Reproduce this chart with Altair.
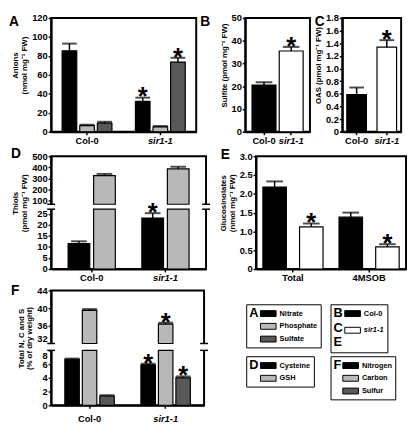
import altair as alt
import pandas as pd

FONT = "Liberation Sans"
BLACK, LIGHT, DARK, WHITE = "#000000", "#b8b8b8", "#585858", "#ffffff"

genotypes = ["Col-0", "sir1-1"]

# A: anions (nmol mg-1 FW)
anions = ["Nitrate", "Phosphate", "Sulfate"]
anions_col0 = [85.5, 6.5, 9.0]
anions_col0_err = [7.5, 0.9, 1.5]
anions_sir = [32.0, 5.2, 73.5]
anions_sir_err = [4.0, 0.8, 4.5]
anions_sig = [True, False, True]

# B: sulfite (pmol mg-1 FW)
sulfite = [20.5, 35.5]
sulfite_err = [1.3, 1.8]
sulfite_sig = [False, True]

# C: OAS (pmol mg-1 FW)
oas = [0.59, 1.34]
oas_err = [0.11, 0.11]
oas_sig = [False, True]

# D: thiols (pmol mg-1 FW)
thiols = ["Cysteine", "GSH"]
thiols_col0 = [11.5, 325.0]
thiols_col0_err = [1.0, 15.0]
thiols_sir = [23.0, 385.0]
thiols_sir_err = [2.2, 20.0]
thiols_sig = [True, False]

# E: glucosinolates (nmol mg-1 FW)
glucos = ["Total", "4MSOB"]
gluc_col0 = [2.18, 1.38]
gluc_col0_err = [0.15, 0.12]
gluc_sir = [1.12, 0.59]
gluc_sir_err = [0.09, 0.07]
gluc_sig = [True, True]

# F: total N, C and S (% of dry weight)
elements = ["Nitrogen", "Carbon", "Sulfur"]
elem_col0 = [6.7, 39.5, 1.35]
elem_col0_err = [0.1, 0.3, 0.1]
elem_sir = [5.9, 36.4, 4.0]
elem_sir_err = [0.15, 0.3, 0.2]
elem_sig = [True, True, True]


def long_table(cats, catname, col0, col0_err, sir, sir_err, sig):
    rows = []
    for g, vals, errs in (("Col-0", col0, col0_err), ("sir1-1", sir, sir_err)):
        for c, v, e, s in zip(cats, vals, errs, sig):
            rows.append({"geno": g, catname: c, "v": v, "top": v + e,
                         "star": "*" if (g == "sir1-1" and s) else ""})
    return pd.DataFrame(rows)


def split_segments(df, low_top, up_bot):
    rows = []
    for r in df.to_dict("records"):
        rows.append({**r, "y0": 0.0, "y1": min(r["v"], low_top)})
        if r["v"] > up_bot:
            rows.append({**r, "y0": up_bot, "y1": r["v"]})
    return pd.DataFrame(rows)


XSTYLE = {"expr": "datum.value == 'sir1-1' ? 'italic' : 'normal'"}
DEC1 = "datum.value == 0 ? '0' : format(datum.value, '.1f')"


def letter_layer(t, dx, by):
    return alt.Chart(pd.DataFrame({"t": [t]})).mark_text(
        align="left", baseline="alphabetic", font=FONT, fontSize=14,
        fontWeight="bold", color=BLACK).encode(
        x=alt.value(dx), y=alt.value(by), text="t:N")


def y_axis(title, values, h, label_expr=None, baseline=None):
    kw = dict(title=title, values=values, labelOverlap=False, titleY=h / 2 - 10)
    if label_expr:
        kw["labelExpr"] = label_expr
    if baseline:
        kw["labelBaseline"] = baseline
    return alt.Axis(**kw)


def build_panel(df, xfield, xsort, xpad, offfield, offsort, offpad, fillfield,
                filldom, fillrng, yscale, yaxis, cap, w, h, letter,
                segments=None, breaks=None, xlabpad=1, extra=None, legend=None):
    xaxis = alt.Axis(title=None, labelAngle=0, labelFontSize=9.5,
                     labelPadding=xlabpad, labelFontStyle=XSTYLE)

    def enc():
        e = {"x": alt.X(f"{xfield}:N", sort=xsort,
                        scale=alt.Scale(paddingInner=xpad[0], paddingOuter=xpad[1]),
                        axis=xaxis)}
        if offfield:
            e["xOffset"] = alt.XOffset(f"{offfield}:N", sort=offsort,
                                       scale=alt.Scale(paddingInner=offpad, paddingOuter=0))
        return e

    def yenc(field):
        return alt.Y(f"{field}:Q", scale=yscale, axis=yaxis)

    fill = alt.Fill(f"{fillfield}:N", sort=filldom,
                    scale=alt.Scale(domain=filldom, range=fillrng), legend=legend)
    if segments is not None:
        bars = alt.Chart(segments).mark_bar(stroke=BLACK, strokeWidth=1.2).encode(
            y=yenc("y0"), y2="y1:Q", fill=fill, **enc())
    else:
        bars = alt.Chart(df).mark_bar(stroke=BLACK, strokeWidth=1.2).encode(
            y=yenc("v"), fill=fill, **enc())
    err = alt.Chart(df).mark_rule(color=BLACK, strokeWidth=1.5).encode(
        y=yenc("v"), y2="top:Q", **enc())
    caps = alt.Chart(df).mark_tick(color=BLACK, thickness=2, size=cap,
                                   orient="horizontal").encode(y=yenc("top"), **enc())
    stars = alt.Chart(df[df["star"] != ""]).mark_text(
        font=FONT, fontSize=26, fontWeight="bold", baseline="alphabetic", dy=8,
        color=BLACK).encode(y=yenc("top"), text="star:N", **enc())
    layers = [bars, err, caps, stars]
    if breaks is not None:
        lo, hi = breaks
        bd = pd.DataFrame({"yb": [lo, hi]})
        mk = pd.DataFrame({"lo": [lo], "hi": [hi]})
        for xv in (0, w):
            layers.append(alt.Chart(mk).mark_rule(color=WHITE, strokeWidth=6).encode(
                x=alt.value(xv), y=yenc("lo"), y2="hi:Q"))
            layers.append(alt.Chart(bd).mark_rule(color=BLACK, strokeWidth=1.5).encode(
                x=alt.value(xv - 4), x2=alt.value(xv + 4), y=yenc("yb")))
    layers.append(letter_layer(*letter))
    if extra:
        layers += extra
    ch = alt.layer(*layers)
    if extra:
        ch = ch.resolve_scale(fill="independent")
    return ch.properties(width=w, height=h)


RECT = "M-1.33,-0.5H1.33V0.5H-1.33Z"


def box_legend(title, x, y, pad_spaces, rowpad=1, lh=13):
    return alt.Legend(title=title, orient="none", legendX=x, legendY=y, direction="vertical",
                      titleOrient="left", titleAnchor="start", titleBaseline="top",
                      titleAlign="left", titleFont=FONT, titleFontSize=13,
                      titleFontWeight="bold", titleColor=BLACK, titlePadding=3,
                      titleLineHeight=lh, labelFont=FONT, labelFontSize=7.5,
                      labelFontWeight="bold", labelColor=BLACK, labelOffset=5,
                      labelFontStyle=XSTYLE,
                      labelExpr="datum.label + '" + " " * pad_spaces + "'",
                      symbolType=RECT, symbolSize=144, symbolStrokeColor=BLACK,
                      symbolStrokeWidth=1, rowPadding=rowpad, padding=3,
                      strokeColor=BLACK)


def legend_layer(field, cats, colors, lg):
    return alt.Chart(pd.DataFrame({field: cats})).mark_text(
        text="", stroke=BLACK, strokeWidth=1).encode(
        fill=alt.Fill(f"{field}:N", sort=cats,
                      scale=alt.Scale(domain=cats, range=colors), legend=lg))


H1, H2, H3 = 116, 115, 117
WA, WB, WC, WD, WE, WF = 148, 66, 60, 158, 153, 156

dfA = long_table(anions, "anion", anions_col0, anions_col0_err, anions_sir, anions_sir_err, anions_sig)
A = build_panel(dfA, "geno", genotypes, (0.32, 0.15), "anion", anions, 0.17, "anion",
                anions, [BLACK, LIGHT, DARK],
                alt.Scale(domain=[0, 120], nice=False),
                y_axis(["Anions", "(nmol mg⁻¹ FW)"], [0, 20, 40, 60, 80, 100, 120], H1),
                15, WA, H1, ("A", -43, 8))

dfB = pd.DataFrame({"geno": genotypes, "v": sulfite,
                    "top": [v + e for v, e in zip(sulfite, sulfite_err)],
                    "star": ["*" if s else "" for s in sulfite_sig]})
B = build_panel(dfB, "geno", genotypes, (0.12, 0.25), None, None, 0, "geno",
                genotypes, [BLACK, WHITE],
                alt.Scale(domain=[0, 50], nice=False),
                y_axis("Sulfite (pmol mg⁻¹ FW)", [0, 10, 20, 30, 40, 50], H1),
                17, WB, H1, ("B", -46, 8))

dfC = pd.DataFrame({"geno": genotypes, "v": oas,
                    "top": [v + e for v, e in zip(oas, oas_err)],
                    "star": ["*" if s else "" for s in oas_sig]})
C = build_panel(dfC, "geno", genotypes, (0.35, 0.15), None, None, 0, "geno",
                genotypes, [BLACK, WHITE],
                alt.Scale(domain=[0, 1.8], nice=False),
                y_axis("OAS (pmol mg⁻¹ FW)", [0, 0.2, 0.4, 0.6, 0.8, 1.0, 1.2, 1.4, 1.6, 1.8], H1, DEC1),
                15, WC, H1, ("C", -28, 8))

D_LO, D_HI = 27.0, 65.0
dfD = long_table(thiols, "thiol", thiols_col0, thiols_col0_err, thiols_sir, thiols_sir_err, thiols_sig)
D = build_panel(dfD, "geno", genotypes, (0.36, 0.23), "thiol", thiols, 0.15, "thiol",
                thiols, [BLACK, LIGHT],
                alt.Scale(domain=[0, D_LO, D_HI, 500], range=[H2, 54, 49, 0], nice=False, zero=False),
                y_axis(["Thiols", "(pmol mg⁻¹ FW)"], [0, 5, 10, 15, 20, 25, 100, 200, 300, 400, 500], H2),
                16, WD, H2, ("D", -41, 2),
                segments=split_segments(dfD, D_LO, D_HI), breaks=(D_LO, D_HI))

dfE = long_table(glucos, "gluc", gluc_col0, gluc_col0_err, gluc_sir, gluc_sir_err, gluc_sig)
E = build_panel(dfE, "gluc", glucos, (0.21, 0.09), "geno", genotypes, 0.36, "geno",
                genotypes, [BLACK, WHITE],
                alt.Scale(domain=[0, 3], nice=False),
                y_axis(["Glucosinolates", "(nmol mg⁻¹ FW)"], [0, 0.5, 1.0, 1.5, 2.0, 2.5, 3.0], H2, DEC1),
                17, WE, H2, ("E", -36, 3))

F_LO, F_HI = 8.0, 32.0
dfF = long_table(elements, "element", elem_col0, elem_col0_err, elem_sir, elem_sir_err, elem_sig)
legend_layers = [
    legend_layer("anion", anions, [BLACK, LIGHT, DARK], box_legend("A", 199, 14, 0)),
    legend_layer("genotype", genotypes, [BLACK, WHITE],
                 box_legend(["B", "C", "E"], 285, 14, 6, rowpad=5, lh=15)),
    legend_layer("thiol", thiols, [BLACK, LIGHT], box_legend("D", 199, 67, 1)),
]
F = build_panel(dfF, "geno", genotypes, (0.35, 0.18), "element", elements, 0.17, "element",
                elements, [BLACK, LIGHT, DARK],
                alt.Scale(domain=[0, F_LO, F_HI, 44], range=[H3, 61, 54, 0], nice=False, zero=False),
                y_axis(["Total N, C and S", "(% of dry weight)"], [0, 2, 4, 6, 8, 32, 36, 40, 44], H3,
                       baseline={"expr": "datum.value == 32 ? 'bottom' : datum.value == 8 ? 'top' : 'middle'"}),
                15, WF, H3, ("F", -41, 5),
                segments=split_segments(dfF, F_LO, F_HI), breaks=(F_LO, F_HI), xlabpad=6,
                extra=legend_layers, legend=box_legend("F", 285, 67, 1))

IND = dict(fill="independent", xOffset="independent", x="independent", y="independent")
row1 = alt.hconcat(A, B, C, spacing=2).resolve_scale(**IND)
row2 = alt.hconcat(D, E, spacing=6).resolve_scale(**IND)
row3 = alt.hconcat(F, spacing=0).resolve_scale(**IND)

chart = alt.vconcat(row1, row2, row3, spacing=0).resolve_scale(**IND).properties(padding=0).configure_view(
    stroke=BLACK, strokeWidth=2
).configure_axis(
    domainColor=BLACK, domainWidth=2, tickColor=BLACK, tickWidth=1.5, tickSize=3,
    labelColor=BLACK, labelFont=FONT, labelFontWeight="bold", labelFontSize=9.5, labelPadding=1,
    titleColor=BLACK, titleFont=FONT, titleFontWeight="bold", titleFontSize=8, titlePadding=3,
    titleLineHeight=9, grid=False
)

chart.save("out.html", embed_options={"renderer": "svg", "actions": False})
